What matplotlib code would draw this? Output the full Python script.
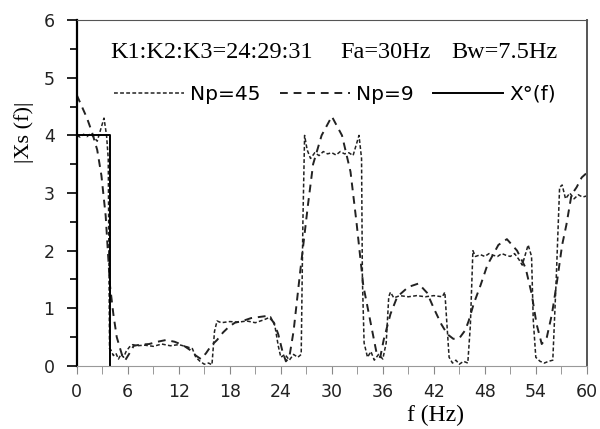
import matplotlib.pyplot as plt
from matplotlib.ticker import MultipleLocator

# Np=45 spectrum (fine dotted)
f45 = [0, 0.4, 0.8, 1.2, 1.6, 2.0, 2.4, 2.8, 3.2, 3.5, 3.7, 3.85, 4.0, 4.3, 4.6, 4.9, 5.2, 5.5,
       5.8, 6.2, 6.6, 7, 8, 9, 10, 11, 12, 13, 13.6, 14.0, 14.5, 15, 15.5, 15.9, 16.2, 16.5,
       17, 18, 19, 20, 21, 22, 22.8, 23.3, 23.7, 24, 24.5, 25, 25.5, 26, 26.4, 26.6, 26.8,
       27.1, 27.5, 28, 28.5, 29, 29.5, 30, 30.5, 31, 31.5, 32, 32.5, 32.8, 33.2, 33.5, 33.6,
       33.8, 34.2, 34.6, 35, 35.5, 36, 36.4, 36.7, 36.9, 37.3, 38, 39, 40, 41, 42, 43, 43.3,
       43.6, 43.8, 44.2, 44.6, 45, 45.5, 46, 46.3, 46.6, 46.9, 47.5, 48, 48.5, 49, 49.5, 50,
       50.5, 51, 51.5, 52, 52.4, 52.7, 53.1, 53.5, 53.7, 54, 54.5, 55, 55.5, 56, 56.4, 56.8,
       57.1, 57.5, 58, 58.5, 59, 59.5, 60]
x45 = [4.0, 3.97, 4.02, 3.98, 4.03, 3.97, 3.9, 4.1, 4.3, 4.0, 3.6, 0.3, 0.28, 0.18, 0.22, 0.12,
       0.2, 0.15, 0.25, 0.33, 0.37, 0.35, 0.36, 0.34, 0.38, 0.35, 0.37, 0.33, 0.3, 0.15, 0.08,
       0.03, 0.05, 0.02, 0.6, 0.78, 0.75, 0.77, 0.76, 0.78, 0.75, 0.8, 0.85, 0.7, 0.35, 0.15,
       0.2, 0.1, 0.2, 0.15, 0.2, 2.5, 4.0, 3.75, 3.6, 3.7, 3.65, 3.72, 3.68, 3.7, 3.66, 3.72,
       3.68, 3.7, 3.65, 3.8, 4.0, 3.6, 1.5, 0.4, 0.15, 0.25, 0.1, 0.2, 0.12, 0.4, 1.2, 1.28,
       1.18, 1.22, 1.2, 1.22, 1.2, 1.22, 1.2, 1.28, 0.6, 0.15, 0.05, 0.1, 0.03, 0.08, 0.05, 0.7,
       2.0, 1.9, 1.93, 1.9, 1.95, 1.92, 1.9, 1.95, 1.92, 1.9, 1.95, 1.85, 1.75, 1.9, 2.1, 1.9,
       0.8, 0.15, 0.08, 0.05, 0.08, 0.1, 1.5, 3.1, 3.14, 2.9, 3.0, 2.9, 2.97, 2.93, 2.95]

# Np=9 spectrum (long dashes)
f9 = [0, 0.6, 1.2, 1.8, 2.4, 2.9, 3.4, 3.9, 4.3, 4.7, 5.3, 5.7, 6.2, 6.7, 7.5, 8.5, 9.5, 10.5,
      11.5, 12.5, 13.3, 14, 14.6, 15.2, 15.8, 16.5, 17.2, 17.9, 18.6, 19.5, 20.5, 21.5, 22.5,
      23.2, 23.7, 24.2, 24.6, 25.0, 25.5, 26.3, 27.2, 27.8, 28.8, 30, 31.2, 32.2, 32.9, 33.7,
      34.7, 35.3, 35.7, 36.1, 36.9, 37.7, 39, 40.2, 41.2, 42, 42.9, 43.6, 44.3, 45, 45.7, 46.1,
      46.7, 47.5, 48.3, 49.6, 50.6, 51.8, 52.8, 53.5, 54.1, 54.7, 55.3, 55.9, 56.5, 57.1, 57.6,
      58.2, 58.8, 59.4, 60]
x9 = [4.7, 4.5, 4.3, 4.05, 3.75, 3.3, 2.6, 1.4, 0.9, 0.5, 0.2, 0.1, 0.22, 0.35, 0.37, 0.38,
      0.42, 0.45, 0.42, 0.36, 0.28, 0.18, 0.12, 0.22, 0.35, 0.45, 0.58, 0.68, 0.75, 0.78, 0.83,
      0.85, 0.87, 0.75, 0.55, 0.25, 0.08, 0.15, 0.6, 1.66, 2.8, 3.5, 4.0, 4.33, 4.0, 3.37, 2.5,
      1.4, 0.65, 0.2, 0.15, 0.45, 0.9, 1.2, 1.37, 1.43, 1.27, 1.0, 0.72, 0.55, 0.47, 0.48, 0.62,
      0.78, 1.08, 1.4, 1.75, 2.1, 2.2, 2.0, 1.7, 1.26, 0.72, 0.38, 0.5, 0.9, 1.47, 2.1, 2.45,
      2.97, 3.1, 3.27, 3.35]

# original spectrum X°(f)
f0 = [0, 3.9, 3.9]
x0 = [4, 4, 0]

serif = 'Liberation Serif'

fig = plt.figure(figsize=(6, 4.29), dpi=100)
ax = fig.add_axes([0.128, 0.147, 0.85, 0.806])

ax.plot(f45, x45, color='#222222', lw=1.1, linestyle=(0, (2.5, 1.5)), label='Np=45')
ax.plot(f9, x9, color='#222222', lw=1.4, linestyle=(0, (4, 3)), label='Np=9')
ax.plot(f0, x0, color='black', lw=1.4, label='X°(f)')

ax.set_xlim(0, 60)
ax.set_ylim(0, 6)
ax.xaxis.set_major_locator(MultipleLocator(6))
ax.xaxis.set_minor_locator(MultipleLocator(3))
ax.yaxis.set_major_locator(MultipleLocator(1))
ax.yaxis.set_minor_locator(MultipleLocator(0.5))
ax.tick_params(axis='x', which='both', direction='out', length=6, color='#888888',
               labelsize=12.5, pad=6, labelcolor='#222222')
ax.tick_params(axis='y', which='major', direction='out', length=7, width=1.2,
               labelsize=12.5, pad=9, labelcolor='#222222')
ax.tick_params(axis='y', which='minor', direction='out', length=5, width=1.2)

ax.spines['left'].set_linewidth(1.6)
ax.spines['bottom'].set_color('#999999')
ax.spines['top'].set_color('#555555')
ax.spines['right'].set_color('#555555')
ax.spines['right'].set_linewidth(1.4)

ax.set_xlabel('f (Hz)', family=serif, fontsize=17)
ax.xaxis.set_label_coords(0.704, -0.112)
ax.set_ylabel('|Xs (f)|', family=serif, fontsize=16)
ax.yaxis.set_label_coords(-0.084, 0.676)

ax.text(0.065, 0.906, 'K1:K2:K3=24:29:31', transform=ax.transAxes, family=serif,
        fontsize=17.5, va='center', ha='left')
ax.text(0.516, 0.906, 'Fa=30Hz', transform=ax.transAxes, family=serif,
        fontsize=17.5, va='center', ha='left')
ax.text(0.735, 0.906, 'Bw=7.5Hz', transform=ax.transAxes, family=serif,
        fontsize=17.5, va='center', ha='left')

ax.legend(loc='center', bbox_to_anchor=(0.506, 0.786), ncol=3, frameon=False,
          fontsize=14.5, handlelength=3.5, handletextpad=0.3, columnspacing=0.95)

fig.savefig('out.png', dpi=100)
